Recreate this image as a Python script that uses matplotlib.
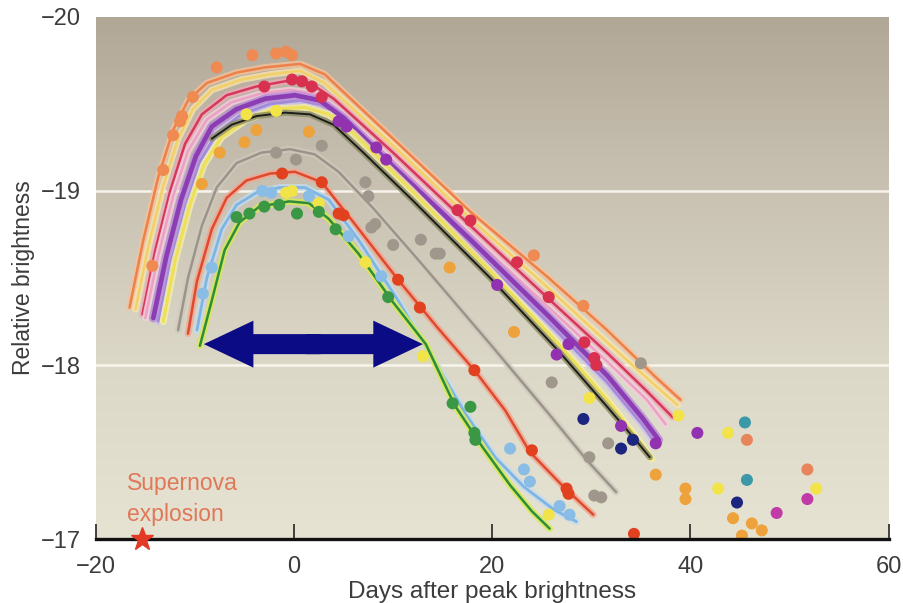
import numpy as np
import matplotlib
matplotlib.use('Agg')
import matplotlib.pyplot as plt
import matplotlib.patheffects as pe
from matplotlib.colors import LinearSegmentedColormap
from matplotlib.patches import FancyArrow

plt.rcParams['font.family'] = ['Liberation Sans', 'DejaVu Sans']

# fitted light curves (days after peak, relative brightness)
orange_x = [-16.6, -15.2, -13.7, -12.2, -10.7, -8.8, -5.8, -2.9, 0.6, 3.1, 10, 17.8, 25.7, 31.6, 36.5, 39.0]
orange_y = [-18.33, -18.72, -19.08, -19.35, -19.52, -19.62, -19.68, -19.71, -19.73, -19.67, -19.30, -18.88, -18.50, -18.20, -17.93, -17.80]
yellow_x = [-16.0, -14.7, -13.2, -11.7, -10.2, -8.3, -5.3, -2.4, 0.6, 3.1, 10, 17.8, 25.7, 31.6, 36.5, 38.7]
yellow_y = [-18.32, -18.68, -19.03, -19.30, -19.47, -19.58, -19.64, -19.67, -19.69, -19.62, -19.26, -18.84, -18.44, -18.13, -17.88, -17.77]
crimson_x = [-15.3, -14.0, -12.5, -11.0, -9.3, -6.8, -3.8, -0.9, 1.6, 4.0, 10, 17.8, 25.7, 31.6, 35.6, 38.2]
crimson_y = [-18.29, -18.66, -19.00, -19.27, -19.44, -19.55, -19.60, -19.63, -19.62, -19.53, -19.22, -18.80, -18.38, -18.07, -17.85, -17.70]
pink_x = [-15.0, -13.7, -12.2, -10.7, -8.8, -6.3, -3.3, -0.4, 2.1, 4.5, 10, 17.8, 25.7, 31.6, 35.6, 37.5]
pink_y = [-18.27, -18.63, -18.97, -19.23, -19.41, -19.51, -19.56, -19.58, -19.56, -19.46, -19.17, -18.75, -18.33, -18.02, -17.80, -17.66]
purple_x = [-14.2, -12.9, -11.4, -9.9, -8.3, -5.8, -2.9, 0.1, 2.6, 5.0, 10, 17.8, 25.7, 31.6, 35.1, 36.8]
purple_y = [-18.27, -18.62, -18.95, -19.20, -19.37, -19.47, -19.53, -19.55, -19.52, -19.42, -19.14, -18.72, -18.28, -17.94, -17.70, -17.57]
lavender_x = [-13.7, -12.4, -10.9, -9.5, -7.8, -5.3, -2.4, 0.6, 3.1, 5.5, 10, 17.8, 25.7, 31.6, 35.1, 36.5]
lavender_y = [-18.25, -18.60, -18.92, -19.17, -19.33, -19.44, -19.50, -19.52, -19.49, -19.39, -19.12, -18.68, -18.24, -17.90, -17.66, -17.55]
lemon_x = [-13.2, -12.0, -10.5, -9.1, -7.3, -4.8, -1.9, 1.1, 3.5, 6.0, 11.9, 19.8, 26.7, 31.6, 34.6, 36.1]
lemon_y = [-18.25, -18.60, -18.92, -19.15, -19.31, -19.41, -19.47, -19.48, -19.44, -19.33, -19.00, -18.54, -18.12, -17.80, -17.58, -17.46]
black_x = [-8.3, -6.3, -3.8, -0.9, 1.6, 4.0, 7.0, 11.9, 19.8, 26.7, 31.6, 34.6, 35.9]
black_y = [-19.30, -19.38, -19.43, -19.45, -19.44, -19.38, -19.22, -18.95, -18.50, -18.08, -17.76, -17.56, -17.47]
gray_x = [-11.7, -10.7, -9.3, -7.8, -5.8, -3.3, -0.4, 2.1, 4.5, 8.0, 12.9, 19.8, 25.7, 29.6, 32.5]
gray_y = [-18.20, -18.50, -18.80, -19.02, -19.16, -19.22, -19.24, -19.21, -19.11, -18.90, -18.58, -18.12, -17.72, -17.45, -17.27]
red_x = [-10.7, -9.8, -8.3, -6.8, -4.8, -2.4, 0.1, 2.8, 6.0, 10.5, 14.4, 18.2, 21.3, 23.8, 27.2, 30.2]
red_y = [-18.18, -18.48, -18.78, -18.96, -19.06, -19.10, -19.11, -19.05, -18.82, -18.49, -18.22, -17.97, -17.74, -17.50, -17.30, -17.14]
blue_x = [-9.8, -8.8, -7.3, -5.8, -3.8, -1.4, 1.1, 3.5, 6.5, 10.4, 13.9, 17.3, 20.3, 23.2, 26.2, 28.5]
blue_y = [-18.20, -18.50, -18.78, -18.92, -18.99, -19.02, -19.02, -18.95, -18.72, -18.38, -18.05, -17.72, -17.47, -17.30, -17.17, -17.10]
green_x = [-9.5, -8.3, -7.0, -5.5, -3.5, -0.5, 1.5, 3.5, 6.5, 10.0, 13.3, 16.2, 19.0, 21.8, 24.0, 25.8]
green_y = [-18.11, -18.37, -18.66, -18.82, -18.91, -18.94, -18.93, -18.84, -18.64, -18.36, -18.12, -17.77, -17.53, -17.31, -17.16, -17.06]

# observed points
pts_orange_x = [-14.3, -13.2, -12.2, -11.5, -11.3, -10.2, -7.8, -4.2, -1.8, -0.8, -0.2, 24.2, 29.2]
pts_orange_y = [-18.57, -19.12, -19.32, -19.40, -19.43, -19.54, -19.71, -19.78, -19.79, -19.80, -19.78, -18.63, -18.34]
pts_amber_x = [-9.3, -7.5, -5.0, -3.8, 1.5, 15.7, 22.2, 36.5, 39.5, 39.5, 44.3, 46.2, 47.2, 45.2]
pts_amber_y = [-19.04, -19.22, -19.28, -19.35, -19.34, -18.56, -18.19, -17.37, -17.29, -17.23, -17.12, -17.09, -17.05, -17.02]
pts_salmon_x = [45.7, 51.8]
pts_salmon_y = [-17.57, -17.40]
pts_crimson_x = [-3.0, -0.2, 0.8, 1.8, 2.8, 16.5, 17.8, 22.5, 25.7, 29.3, 30.3, 30.5]
pts_crimson_y = [-19.60, -19.64, -19.63, -19.60, -19.54, -18.89, -18.83, -18.59, -18.39, -18.13, -18.04, -18.00]
pts_purple_x = [4.5, 5.3, 8.3, 9.3, 20.5, 26.5, 27.7, 33.0, 36.5, 40.7]
pts_purple_y = [-19.40, -19.37, -19.25, -19.18, -18.46, -18.06, -18.12, -17.65, -17.55, -17.61]
pts_magenta_x = [48.7, 51.8]
pts_magenta_y = [-17.15, -17.23]
pts_navy_x = [29.2, 33.0, 34.2, 44.7]
pts_navy_y = [-17.69, -17.52, -17.57, -17.21]
pts_teal_x = [45.5, 45.7]
pts_teal_y = [-17.67, -17.34]
pts_yellow_x = [-4.8, -1.8, -0.8, -0.2, 2.5, 7.2, 13.0, 25.7, 29.8, 38.8, 43.8, 42.8, 52.7]
pts_yellow_y = [-19.44, -19.46, -18.99, -19.00, -18.93, -18.59, -18.05, -17.14, -17.81, -17.71, -17.61, -17.29, -17.29]
pts_gray_x = [-1.8, 0.2, 2.8, 7.2, 7.5, 7.8, 8.2, 10.0, 12.8, 14.3, 14.7, 26.0, 29.8, 30.3, 31.0, 31.7, 35.0]
pts_gray_y = [-19.22, -19.18, -19.26, -19.05, -18.97, -18.79, -18.81, -18.69, -18.72, -18.64, -18.64, -17.90, -17.47, -17.25, -17.24, -17.55, -18.01]
pts_red_x = [-1.2, 2.8, 4.5, 5.0, 10.5, 12.7, 18.2, 24.0, 27.5, 27.7, 34.3]
pts_red_y = [-19.10, -19.05, -18.87, -18.86, -18.49, -18.33, -17.97, -17.51, -17.29, -17.26, -17.03]
pts_blue_x = [-9.2, -8.3, -3.2, -2.3, 1.5, 5.5, 8.8, 21.8, 23.2, 23.8, 26.8, 27.8]
pts_blue_y = [-18.41, -18.56, -19.00, -18.99, -18.97, -18.74, -18.51, -17.52, -17.40, -17.33, -17.19, -17.14]
pts_green_x = [-5.8, -4.5, -3.0, -1.5, 0.3, 2.5, 4.2, 9.5, 16.0, 17.8, 18.2, 18.3]
pts_green_y = [-18.85, -18.87, -18.91, -18.92, -18.87, -18.88, -18.78, -18.39, -17.78, -17.76, -17.61, -17.57]

x_ticks = [-20, 0, 20, 40, 60]
y_ticks = [-20, -19, -18, -17]

fig = plt.figure(figsize=(9.04, 6.03), dpi=100)
ax = fig.add_axes([0.106, 0.106, 0.877, 0.866])
ax.set_xlim(-20, 60)
ax.set_ylim(-17, -20)

# background gradient
bg = LinearSegmentedColormap.from_list('bg', ['#b1a797', '#c9c2b2', '#dcd8c7', '#e6e3d2'])
grad = np.linspace(0, 1, 256).reshape(-1, 1)
ax.imshow(grad, cmap=bg, extent=[-20, 60, -17, -20], aspect='auto', zorder=0)

for yv in [-19, -18]:
    ax.axhline(yv, color='#f7f4ec', lw=1.8, zorder=1)

curves = [
    (orange_x, orange_y, '#ee8049', '#f5c29a', 1.8),
    (yellow_x, yellow_y, '#f3d065', '#f8e4b0', 1.8),
    (crimson_x, crimson_y, '#d8375c', '#eeaab8', 1.8),
    (pink_x, pink_y, '#eba0c4', '#f4d0de', 1.8),
    (lavender_x, lavender_y, '#a08ada', '#cdc1ee', 2.0),
    (purple_x, purple_y, '#8b3db4', '#b98ad8', 3.4),
    (lemon_x, lemon_y, '#ede056', '#f5efaa', 2.2),
    (black_x, black_y, '#1c1c1c', '#8a8a60', 1.4),
    (gray_x, gray_y, '#9c9489', '#cfc9bf', 1.8),
    (red_x, red_y, '#df4a2e', '#f0a792', 1.8),
    (blue_x, blue_y, '#7fb5e2', '#c4dcf0', 2.0),
    (green_x, green_y, '#2f8c3a', '#d6ec4c', 1.8),
]
for cx, cy, col, halo, lw in curves:
    ax.plot(cx, cy, color=col, lw=lw, solid_capstyle='round', zorder=3,
            path_effects=[pe.Stroke(linewidth=lw + 3, foreground=halo, alpha=0.8), pe.Normal()])

dots = [
    (pts_orange_x, pts_orange_y, '#ee8a52'),
    (pts_amber_x, pts_amber_y, '#eea23c'),
    (pts_salmon_x, pts_salmon_y, '#e8845a'),
    (pts_crimson_x, pts_crimson_y, '#d8304f'),
    (pts_purple_x, pts_purple_y, '#9232b0'),
    (pts_magenta_x, pts_magenta_y, '#c03aa8'),
    (pts_navy_x, pts_navy_y, '#1c2580'),
    (pts_teal_x, pts_teal_y, '#3a98a8'),
    (pts_yellow_x, pts_yellow_y, '#f2e448'),
    (pts_gray_x, pts_gray_y, '#a0978c'),
    (pts_red_x, pts_red_y, '#e2411f'),
    (pts_blue_x, pts_blue_y, '#8abde6'),
    (pts_green_x, pts_green_y, '#3a9845'),
]
for px, py, col in dots:
    ax.scatter(px, py, s=75, color=col, edgecolors='none', zorder=4)

# double arrow (two overlapping halves, no seam)
navy = '#0b0b86'
ax.add_patch(FancyArrow(1.2, -18.12, 11.8, 0, width=0.115, head_width=0.27,
                        head_length=5.0, length_includes_head=True,
                        color=navy, lw=0, zorder=6))
ax.add_patch(FancyArrow(2.7, -18.12, -11.8, 0, width=0.115, head_width=0.27,
                        head_length=5.0, length_includes_head=True,
                        color=navy, lw=0, zorder=6))

# explosion marker
ax.plot([-15.3], [-17.0], marker='*', ms=17, color='#e23a24', mec='#e23a24',
        clip_on=False, zorder=9)
ax.text(-16.9, -17.23, 'Supernova\nexplosion', color='#e07858', fontsize=16.5,
        linespacing=1.4, va='center', ha='left', zorder=7)

for s in ['top', 'right', 'left']:
    ax.spines[s].set_visible(False)
ax.spines['bottom'].set_linewidth(2.4)
ax.spines['bottom'].set_color('#111111')
ax.spines['bottom'].set_zorder(8)

ax.set_xticks(x_ticks)
ax.set_yticks(y_ticks)
ax.set_xticklabels([str(v).replace('-', '\u2212') for v in x_ticks])
ax.set_yticklabels([str(v).replace('-', '\u2212') for v in y_ticks])
ax.tick_params(axis='x', direction='in', length=11, width=1.3, color='#333333',
               pad=12, labelsize=17, labelcolor='#3c3c3c')
ax.tick_params(axis='y', length=0, pad=11, labelsize=17, labelcolor='#3c3c3c')

ax.set_xlabel('Days after peak brightness', fontsize=17.5, color='#3c3c3c', labelpad=2)
ax.set_ylabel('Relative brightness', fontsize=16.5, color='#3c3c3c', labelpad=4)

fig.savefig('out.png', dpi=100)
